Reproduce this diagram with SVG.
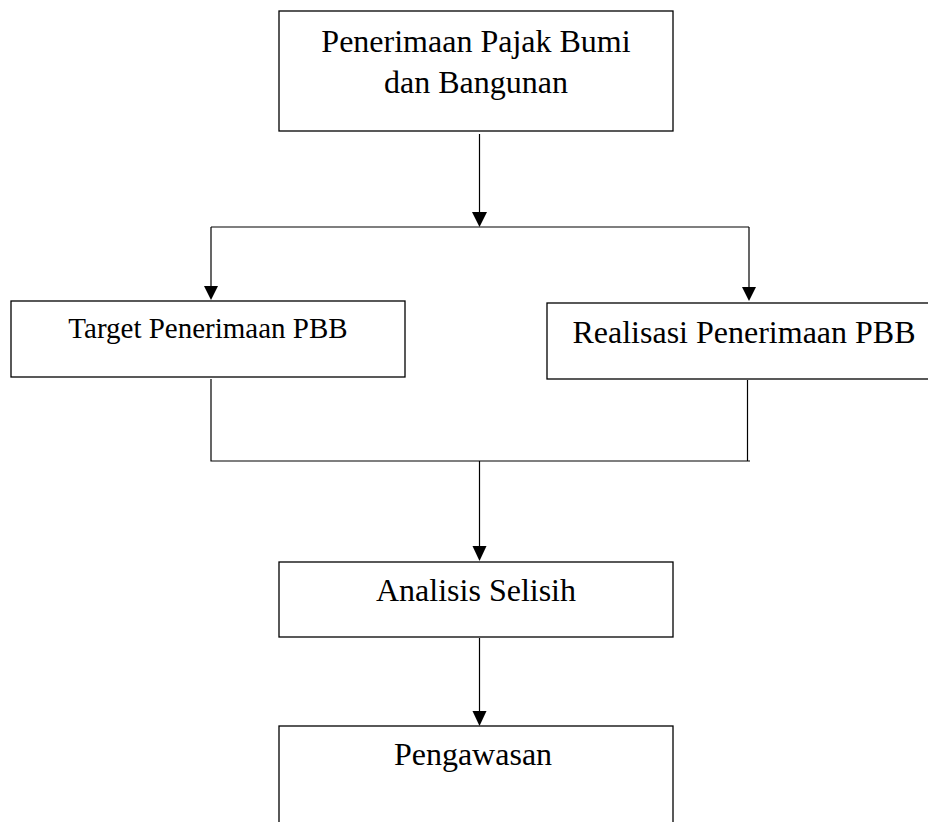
<svg xmlns="http://www.w3.org/2000/svg" width="928" height="822" viewBox="0 0 928 822">
<defs>
<style>
.box{fill:#fff;stroke:#000;stroke-width:1.3}
.t{font-family:"Liberation Serif","Times New Roman",serif;fill:#000;text-anchor:middle}
.c{fill:none;stroke:#000;stroke-width:1.2}
.ah{fill:#000}
</style>
</defs>
<rect width="928" height="822" fill="#fff"/>
<g id="connectors">
<path class="c" d="M479.5,134 V212"/>
<polygon class="ah" points="472,212 487,212 479.5,227"/>
<path class="c" d="M211,227 H749"/>
<path class="c" d="M211,227 V286"/>
<polygon class="ah" points="204,286 218,286 211,300"/>
<path class="c" d="M749,227 V287"/>
<polygon class="ah" points="742,287 756,287 749,301"/>
<path class="c" d="M211,379 V461 H750"/>
<path class="c" d="M747.5,380 V461"/>
<path class="c" d="M479.5,461 V546"/>
<polygon class="ah" points="472.5,546 486.5,546 479.5,561"/>
<path class="c" d="M479.5,638 V711"/>
<polygon class="ah" points="472.5,711 486.5,711 479.5,726"/>
</g>
<g id="node-pbb">
<rect class="box" x="279" y="11" width="394" height="120"/>
<text class="t" x="476" y="52" font-size="32">Penerimaan Pajak Bumi</text>
<text class="t" x="476" y="93" font-size="32">dan Bangunan</text>
</g>
<g id="node-target">
<rect class="box" x="11" y="301" width="394" height="76"/>
<text class="t" x="208" y="338" font-size="29">Target Penerimaan PBB</text>
</g>
<g id="node-realisasi">
<rect class="box" x="547" y="303" width="390" height="76"/>
<text class="t" x="744" y="343" font-size="32">Realisasi Penerimaan PBB</text>
</g>
<g id="node-analisis">
<rect class="box" x="279" y="562" width="394" height="75"/>
<text class="t" x="476" y="601" font-size="32">Analisis Selisih</text>
</g>
<g id="node-pengawasan">
<rect class="box" x="279" y="726" width="394" height="110"/>
<text class="t" x="473" y="765" font-size="32">Pengawasan</text>
</g>
</svg>
